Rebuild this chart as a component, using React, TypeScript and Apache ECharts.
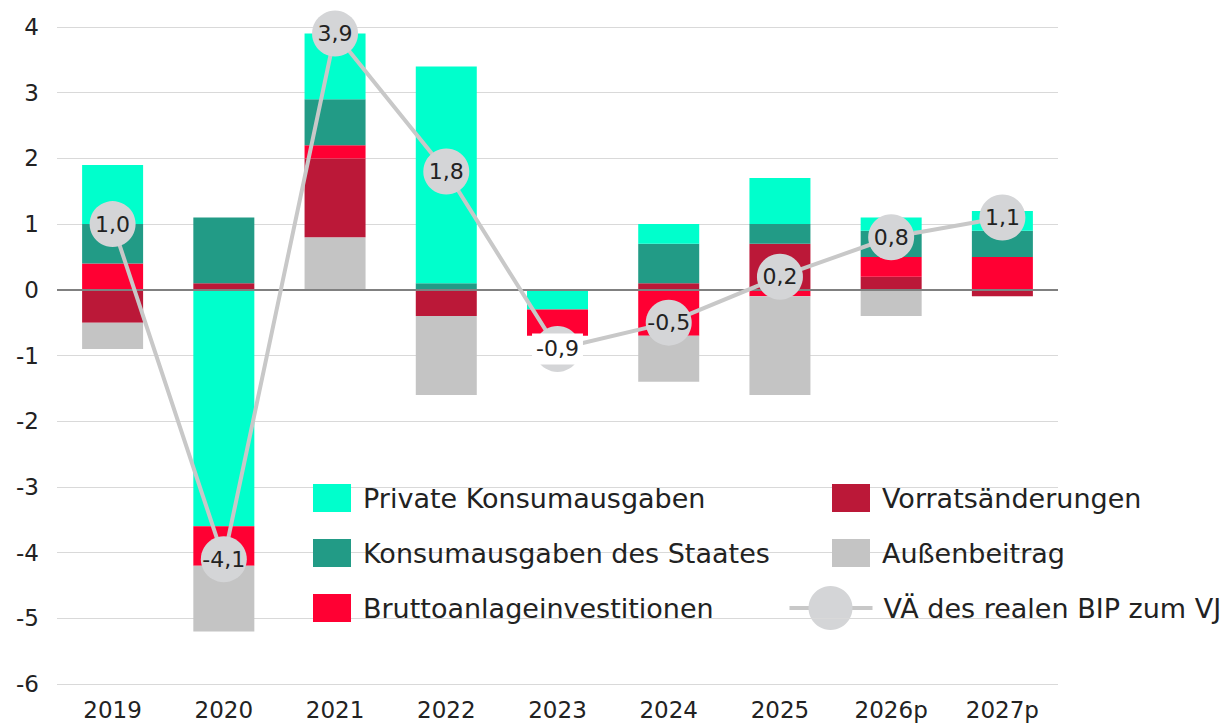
import React, { useEffect, useRef } from "react";
import * as echarts from "echarts";

const categories = ["2019", "2020", "2021", "2022", "2023", "2024", "2025", "2026p", "2027p"];
const privat = [0.9, -3.6, 1.0, 3.3, -0.3, 0.3, 0.7, 0.2, 0.3];
const staat = [0.6, 1.0, 0.7, 0.1, 0, 0.6, 0.3, 0.4, 0.4];
const brutto = [0.4, -0.6, 0.2, 0, -0.4, -0.7, -0.1, 0.3, 0.5];
const vorrat = [-0.5, 0.1, 1.2, -0.4, 0, 0.1, 0.7, 0.2, -0.1];
const aussen = [-0.4, -1.0, 0.8, -1.2, 0, -0.7, -1.5, -0.4, 0];
const bip = [1.0, -4.1, 3.9, 1.8, -0.9, -0.5, 0.2, 0.8, 1.1];

const FONT = "'DejaVu Sans', sans-serif";
const TXT = "#222222";

type S = { name: string; data: number[]; color: string };
const comps: S[] = [
  { name: "Private Konsumausgaben", data: privat, color: "#00FFCC" },
  { name: "Konsumausgaben des Staates", data: staat, color: "#229B86" },
  { name: "Bruttoanlageinvestitionen", data: brutto, color: "#FF0033" },
  { name: "Vorratsänderungen", data: vorrat, color: "#BB1838" },
  { name: "Außenbeitrag", data: aussen, color: "#C4C4C4" },
];

export default function App() {
  const ref = useRef<HTMLDivElement>(null);
  useEffect(() => {
    if (!ref.current) return;
    const chart = echarts.init(ref.current, undefined, { renderer: "svg" });

    const barBase = {
      type: "bar",
      barWidth: 61,
      barGap: "-100%",
      emphasis: { disabled: true },
    };
    const posOrder = [...comps].reverse();
    const negOrder = comps;
    const series: any[] = [];
    posOrder.forEach((c) => {
      series.push({
        ...barBase,
        name: c.name,
        stack: "pos",
        itemStyle: { color: c.color },
        data: c.data.map((v) => (v > 0 ? v : "-")),
      });
    });
    negOrder.forEach((c, i) => {
      const s: any = {
        ...barBase,
        name: c.name,
        stack: "neg",
        itemStyle: { color: c.color },
        data: c.data.map((v) => (v < 0 ? v : "-")),
      };
      if (i === negOrder.length - 1) {
        s.markLine = {
          silent: true,
          symbol: "none",
          label: { show: false },
          lineStyle: { color: "#808080", width: 2, type: "solid" },
          data: [{ yAxis: 0 }],
          z: 5,
        };
      }
      series.push(s);
    });
    series.push({
      name: "VÄ des realen BIP zum VJ",
      type: "line",
      z: 10,
      data: bip.map((v, i) =>
        i === 4
          ? {
              value: v,
              label: { backgroundColor: "#ffffff", padding: [4, 4, 5, 4] },
            }
          : v
      ),
      symbol: "circle",
      symbolSize: 46,
      itemStyle: { color: "#D4D5D7" },
      lineStyle: { color: "#C8C8C8", width: 4 },
      emphasis: { disabled: true },
      label: {
        show: true,
        position: "inside",
        fontSize: 22,
        fontFamily: FONT,
        color: TXT,
        formatter: (p: any) => Number(p.value).toFixed(1).replace(".", ","),
      },
    });

    const legendText = { fontSize: 27, fontFamily: FONT, color: TXT, lineHeight: 28, padding: [0, 0, 0, 7] };

    chart.setOption({
      animation: false,
      grid: { left: 57, right: 169, top: 27, bottom: 40 },
      xAxis: {
        type: "category",
        data: categories,
        axisLine: { show: false },
        axisTick: { show: false },
        axisLabel: { fontSize: 23, fontFamily: FONT, color: TXT, margin: 14 },
      },
      yAxis: {
        type: "value",
        min: -6,
        max: 4,
        interval: 1,
        axisLine: { show: false },
        axisTick: { show: false },
        splitLine: { lineStyle: { color: "#D9D9D9", width: 1 } },
        axisLabel: { fontSize: 23, fontFamily: FONT, color: TXT, margin: 18 },
      },
      legend: [
        {
          orient: "vertical",
          left: 313,
          top: 484,
          padding: 0,
          itemWidth: 38,
          itemHeight: 28,
          itemGap: 27,
          icon: "rect",
          selectedMode: false,
          data: comps.slice(0, 3).map((c) => c.name),
          textStyle: legendText,
        },
        {
          orient: "vertical",
          left: 832,
          top: 484,
          padding: 0,
          itemWidth: 38,
          itemHeight: 28,
          itemGap: 27,
          icon: "rect",
          selectedMode: false,
          data: comps.slice(3).map((c) => c.name),
          textStyle: legendText,
        },
      ],
      graphic: [
        {
          type: "group",
          left: 787,
          top: 586,
          children: [
            {
              type: "line",
              shape: { x1: 0, y1: 22, x2: 83, y2: 22 },
              style: { stroke: "#C8C8C8", lineWidth: 4 },
            },
            {
              type: "circle",
              shape: { cx: 41, cy: 22, r: 22 },
              style: { fill: "#D4D5D7" },
            },
            {
              type: "text",
              x: 94,
              y: 22,
              style: {
                text: "VÄ des realen BIP zum VJ",
                fontSize: 27,
                fontFamily: FONT,
                fill: TXT,
                verticalAlign: "middle",
              },
            },
          ],
        },
      ],
      series,
    });
    return () => chart.dispose();
  }, []);
  return (
    <div
      ref={ref}
      style={{ position: "absolute", left: 0, top: 0, width: 1227, height: 724 }}
    />
  );
}
